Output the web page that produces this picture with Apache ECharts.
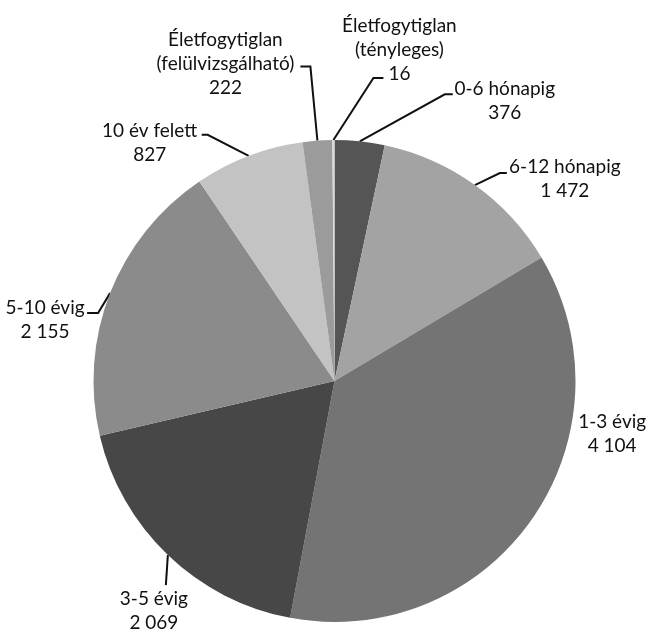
<!DOCTYPE html>
<html><head><meta charset="utf-8">
<script src="https://cdn.jsdelivr.net/npm/echarts@6/dist/echarts.min.js"></script>
<style>html,body{margin:0;padding:0;background:#fff}#c{width:648px;height:631px}</style>
</head><body><div id="c"></div>
<script>
// ---- data ----
const categories = ['0-6 hónapig', '6-12 hónapig', '1-3 évig', '3-5 évig', '5-10 évig', '10 év felett', 'Életfogytiglan\n(felülvizsgálható)', 'Életfogytiglan\n(tényleges)'];
const values = [376, 1472, 4104, 2069, 2155, 827, 222, 16];

// ---- styles ----
const colors = ['#555555', '#a3a3a3', '#747474', '#474747', '#8b8b8b', '#c3c3c3', '#9b9b9b', '#d9d9d9'];
// label placement: offsets relative to the slice's outer edge point computed by ECharts
const labelOffsets = [
  { text: [145, -40], line: [[85, -47], [93, -47]] },
  { text: [90, -6], line: [[25, -12], [32, -12]] },
  { text: [80, -85], line: null },
  { text: [-14, 56], line: [[-2, 30], [-2, 30]] },
  { text: [-65, 27], line: [[-12, 20], [-23, 20]] },
  { text: [-99, -13], line: [[-41, -21], [-47, -21]] },
  { text: [-92, -77], line: [[-7, -74], [-17, -74]] },
  { text: [66, -90], line: [[40, -62], [50, -62]] }
];

function fmtNum(v) { return String(v).replace(/\B(?=(\d{3})+(?!\d))/g, ' '); }

const chart = echarts.init(document.getElementById('c'), null, { renderer: 'canvas' });
chart.setOption({
  backgroundColor: '#ffffff',
  animation: false,
  series: [{
    type: 'pie',
    center: [334.5, 381],
    radius: 241,
    startAngle: 90,
    clockwise: true,
    avoidLabelOverlap: false,
    silent: true,
    emphasis: { disabled: true },
    itemStyle: { borderWidth: 0 },
    label: {
      show: true,
      position: 'outside',
      formatter: p => p.name + '\n' + fmtNum(p.value),
      fontFamily: 'Lato',
      fontSize: 19,
      lineHeight: 24,
      color: '#111111'
    },
    labelLine: { show: true, length: 10, length2: 10, lineStyle: { color: '#111111', width: 2 } },
    labelLayout: function (p) {
      const o = labelOffsets[p.dataIndex];
      const pts = p.labelLinePoints;
      if (!pts) return {};
      const e = pts[0];
      const res = { x: e[0] + o.text[0], y: e[1] + o.text[1], align: 'center', verticalAlign: 'middle' };
      if (o.line) {
        res.labelLinePoints = [e, [e[0] + o.line[0][0], e[1] + o.line[0][1]], [e[0] + o.line[1][0], e[1] + o.line[1][1]]];
      } else {
        res.labelLinePoints = [e, e, e];
      }
      return res;
    },
    data: categories.map((c, i) => ({
      name: c,
      value: values[i],
      itemStyle: { color: colors[i] },
      labelLine: labelOffsets[i].line ? undefined : { lineStyle: { opacity: 0, width: 0 } }
    }))
  }]
});
</script>
</body></html>
